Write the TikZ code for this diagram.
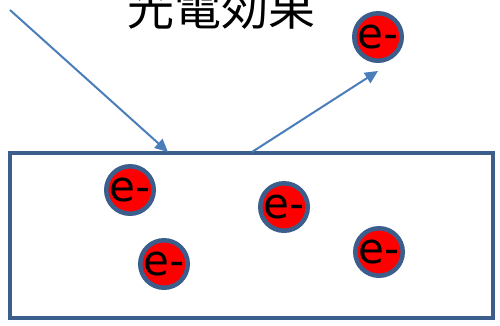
\documentclass[tikz,border=0pt]{standalone}
\usepackage{fontspec}
\usepackage{tikz}
\usetikzlibrary{arrows.meta}
\newfontfamily\cjkfont{Noto Sans CJK JP}
\newfontfamily\elecfont{DejaVu Sans}
\definecolor{boxblue}{HTML}{3B5E8C}
\definecolor{rayblue}{HTML}{4A7EBB}
\tikzset{
    electron/.style={circle,draw=boxblue,fill=red,line width=4.5pt,
        minimum size=45pt,inner sep=0pt,
        font=\elecfont\fontsize{42}{42}\selectfont},
    ray/.style={draw=rayblue,line width=2pt,-{Triangle[length=13pt,width=12pt]}}
}
\begin{document}
\begin{tikzpicture}[x=1pt,y=-1pt]
                \useasboundingbox (0,0) rectangle (500,325);
                %title
                \node[anchor=base,inner sep=0pt,font=\cjkfont\fontsize{47}{47}\selectfont]
                    (title) at (221,25) {光電効果};
                %plate
                \node[draw=boxblue,line width=4.5pt,minimum width=483pt,minimum height=165pt,
                    inner sep=0pt] (plate) at (251.5,235.5) {};
                %electrons
                \node[electron] (efree) at (378,37) {e-};
                \foreach \pos [count=\i] in {(130,190),(284,207),(164,264),(379,252)}
                    \node[electron] (e\i) at \pos {e-};
                %light in, electron out
                \coordinate (lightsrc) at (10,10);
                \coordinate (hit) at (168,152);
                \coordinate (exit) at (252,152);
                \coordinate (escape) at (378,71);
                \draw[ray] (lightsrc) -- (hit);
                \draw[ray] (exit) -- (escape);
            \end{tikzpicture}
\end{document}
